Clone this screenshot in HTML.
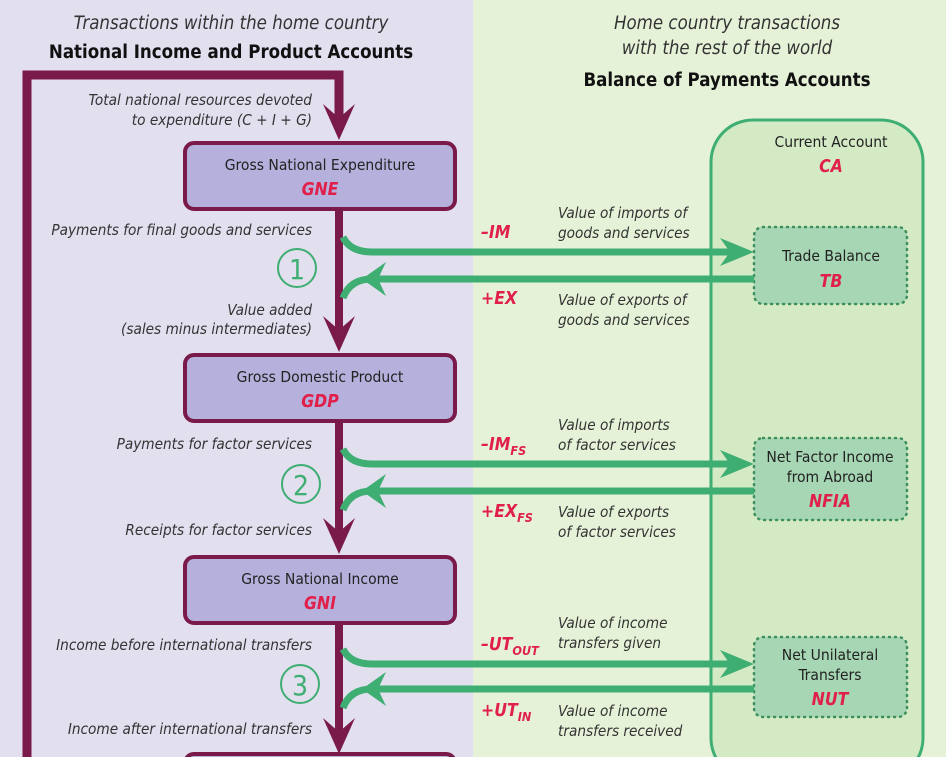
<!DOCTYPE html>
<html><head><meta charset="utf-8"><style>
body{margin:0;background:#fff}
svg{display:block;font-family:"DejaVu Sans Condensed","DejaVu Sans","Liberation Sans",sans-serif}
.it{font-style:italic;font-size:15.2px;fill:#333}
.nm{font-size:15.5px;fill:#222}
.rd{font-style:italic;font-weight:bold;font-size:17.5px;fill:#e0204a}
.hd{font-weight:bold;font-size:18.5px;fill:#111}
.ih{font-style:italic;font-size:18.5px;fill:#333}
.g{stroke:#3fae72;stroke-width:7;fill:none}
.ga{fill:#3fae72}
.m{fill:#7a1a4a}
</style></head><body>
<svg width="946" height="757" viewBox="0 0 946 757">
<rect x="0" y="0" width="473" height="757" fill="#e2dfef"/>
<rect x="473" y="0" width="473" height="757" fill="#e6f2d8"/>
<rect x="711" y="120" width="212" height="660" rx="42" fill="#d3eac5" stroke="#3fae72" stroke-width="3"/>

<text class="ih" x="231" y="29" text-anchor="middle">Transactions within the home country</text>
<text class="hd" x="231" y="58" text-anchor="middle">National Income and Product Accounts</text>
<text class="ih" x="727" y="29" text-anchor="middle">Home country transactions</text>
<text class="ih" x="727" y="54" text-anchor="middle">with the rest of the world</text>
<text class="hd" x="727" y="86" text-anchor="middle">Balance of Payments Accounts</text>

<path d="M27 757 V75 H339 V120" stroke="#7a1a4a" stroke-width="9" fill="none"/>
<path d="M339 205 V340 M339 415 V545 M339 620 V745" stroke="#7a1a4a" stroke-width="8" fill="none"/>
<polygon class="m" points="323,104 339,140 355,104 339,118"/>
<polygon class="m" points="323,316 339,352 355,316 339,330"/>
<polygon class="m" points="323,518 339,554 355,518 339,532"/>
<polygon class="m" points="323,718 339,754 355,718 339,732"/>

<text class="it" x="312" y="105" text-anchor="end">Total national resources devoted</text>
<text class="it" x="312" y="125" text-anchor="end">to expenditure (C + I + G)</text>

<g stroke="#7a1a4a" stroke-width="4" fill="#b5b1dc">
<rect x="185" y="143" width="270" height="66" rx="9"/>
<rect x="185" y="355" width="270" height="66" rx="9"/>
<rect x="185" y="557" width="270" height="66" rx="9"/>
<rect x="185" y="754" width="270" height="30" rx="9"/>
</g>
<text class="nm" x="320" y="170" text-anchor="middle">Gross National Expenditure</text>
<text class="rd" x="320" y="195" text-anchor="middle">GNE</text>
<text class="nm" x="320" y="382" text-anchor="middle">Gross Domestic Product</text>
<text class="rd" x="320" y="407" text-anchor="middle">GDP</text>
<text class="nm" x="320" y="584" text-anchor="middle">Gross National Income</text>
<text class="rd" x="320" y="609" text-anchor="middle">GNI</text>

<g stroke="#3d8f5c" stroke-width="2.5" fill="#fff" stroke-dasharray="1 5" stroke-linecap="round">
<rect x="754" y="227" width="153" height="77" rx="9" fill="#a6d6b4"/>
<rect x="754" y="438" width="153" height="82" rx="9" fill="#a6d6b4"/>
<rect x="754" y="637" width="153" height="80" rx="9" fill="#a6d6b4"/>
</g>
<text class="nm" x="831" y="147" text-anchor="middle">Current Account</text>
<text class="rd" x="831" y="172" text-anchor="middle">CA</text>
<text class="nm" x="831" y="261" text-anchor="middle">Trade Balance</text>
<text class="rd" x="831" y="287" text-anchor="middle">TB</text>
<text class="nm" x="830" y="462" text-anchor="middle">Net Factor Income</text>
<text class="nm" x="830" y="482" text-anchor="middle">from Abroad</text>
<text class="rd" x="830" y="507" text-anchor="middle">NFIA</text>
<text class="nm" x="830" y="660" text-anchor="middle">Net Unilateral</text>
<text class="nm" x="830" y="680" text-anchor="middle">Transfers</text>
<text class="rd" x="830" y="705" text-anchor="middle">NUT</text>

<!-- flow 1 -->
<path class="g" d="M343 237 Q350 252 372 252 H730"/>
<polygon class="ga" points="720,238 754,252 720,266 730,252"/>
<path class="g" d="M754 279 H372 Q350 279 343 298"/>
<polygon class="ga" points="386,262 362,279 386,296 378,279"/>
<circle cx="297" cy="268" r="19" fill="none" stroke="#3fae72" stroke-width="2"/>
<text x="297" y="279" text-anchor="middle" font-size="28" fill="#3fae72">1</text>
<text class="it" x="312" y="235" text-anchor="end">Payments for final goods and services</text>
<text class="it" x="312" y="315" text-anchor="end">Value added</text>
<text class="it" x="312" y="334" text-anchor="end">(sales minus intermediates)</text>
<text class="rd" x="481" y="238">–IM</text>
<text class="it" x="558" y="218">Value of imports of</text>
<text class="it" x="558" y="238">goods and services</text>
<text class="rd" x="481" y="304">+EX</text>
<text class="it" x="558" y="305">Value of exports of</text>
<text class="it" x="558" y="325">goods and services</text>

<!-- flow 2 -->
<path class="g" d="M343 449 Q350 464 372 464 H730"/>
<polygon class="ga" points="720,450 754,464 720,478 730,464"/>
<path class="g" d="M754 491 H372 Q350 491 343 510"/>
<polygon class="ga" points="386,474 362,491 386,508 378,491"/>
<circle cx="301" cy="484" r="19" fill="none" stroke="#3fae72" stroke-width="2"/>
<text x="301" y="495" text-anchor="middle" font-size="28" fill="#3fae72">2</text>
<text class="it" x="312" y="449" text-anchor="end">Payments for factor services</text>
<text class="it" x="312" y="535" text-anchor="end">Receipts for factor services</text>
<text class="rd" x="481" y="450">–IM<tspan font-size="12.5" dy="5">FS</tspan></text>
<text class="it" x="558" y="430">Value of imports</text>
<text class="it" x="558" y="450">of factor services</text>
<text class="rd" x="481" y="517">+EX<tspan font-size="12.5" dy="5">FS</tspan></text>
<text class="it" x="558" y="517">Value of exports</text>
<text class="it" x="558" y="537">of factor services</text>

<!-- flow 3 -->
<path class="g" d="M343 649 Q350 664 372 664 H730"/>
<polygon class="ga" points="720,650 754,664 720,678 730,664"/>
<path class="g" d="M754 689 H372 Q350 689 343 708"/>
<polygon class="ga" points="386,672 362,689 386,706 378,689"/>
<circle cx="300" cy="684" r="19" fill="none" stroke="#3fae72" stroke-width="2"/>
<text x="300" y="695" text-anchor="middle" font-size="28" fill="#3fae72">3</text>
<text class="it" x="312" y="650" text-anchor="end">Income before international transfers</text>
<text class="it" x="312" y="734" text-anchor="end">Income after international transfers</text>
<text class="rd" x="481" y="650">–UT<tspan font-size="12.5" dy="5">OUT</tspan></text>
<text class="it" x="558" y="628">Value of income</text>
<text class="it" x="558" y="648">transfers given</text>
<text class="rd" x="481" y="716">+UT<tspan font-size="12.5" dy="5">IN</tspan></text>
<text class="it" x="558" y="716">Value of income</text>
<text class="it" x="558" y="736">transfers received</text>
</svg>
</body></html>
